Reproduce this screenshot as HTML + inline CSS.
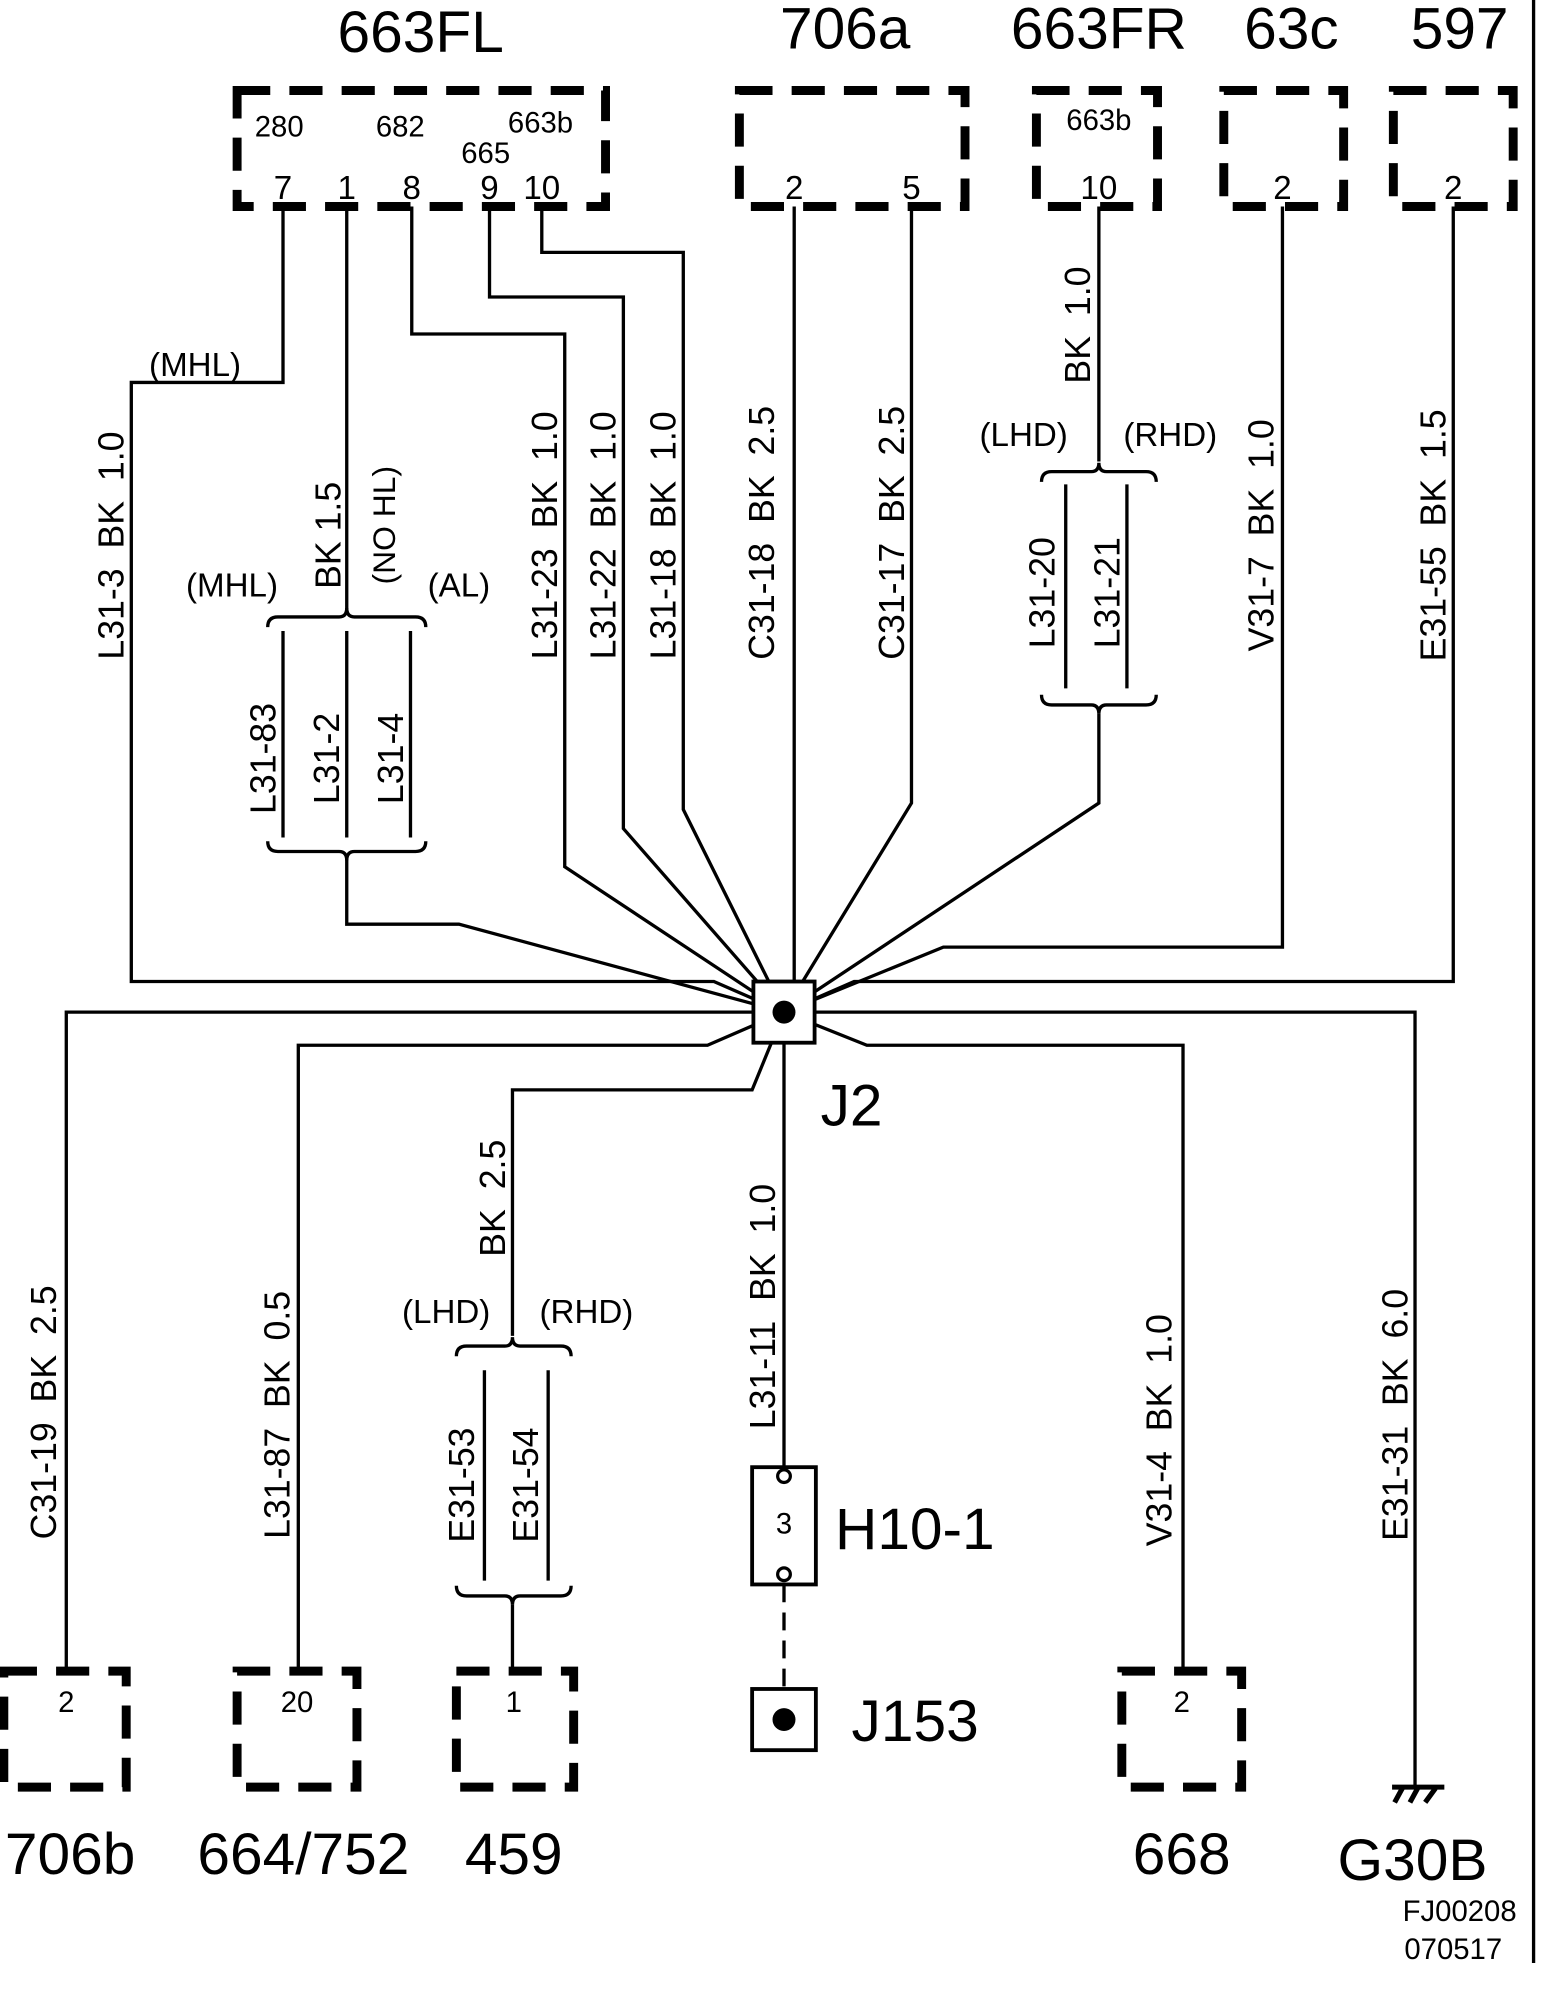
<!DOCTYPE html>
<html><head><meta charset="utf-8"><style>html,body{margin:0;padding:0;background:#fff}svg{display:block}text{white-space:pre}</style></head><body>
<svg xmlns="http://www.w3.org/2000/svg" width="1568" height="2000" viewBox="0 0 1230 1569" preserveAspectRatio="none" font-family="Liberation Sans, Arial, sans-serif" xml:space="preserve">
<g fill="none" stroke="#000" stroke-width="7" stroke-dasharray="26,15">
<rect x="186" y="71" width="289" height="91"/>
<rect x="580" y="71" width="177" height="91"/>
<rect x="813" y="71" width="95" height="91"/>
<rect x="960" y="71" width="94" height="91"/>
<rect x="1093" y="71" width="94" height="91"/>
<rect x="3" y="1311" width="96" height="91"/>
<rect x="186" y="1311" width="94" height="91"/>
<rect x="358" y="1311" width="92" height="91"/>
<rect x="880" y="1311" width="94" height="91"/>
</g>
<g fill="none" stroke="#000" stroke-width="2.6">
<path d="M222,162 V300 H103 V770 H560 L615,794"/>
<path d="M272,162 V478"/>
<path d="M272,672 V725 H360 L615,794"/>
<path d="M222,495 V657 M272,495 V657 M322,495 V657"/>
<path d="M210,492 Q210,484 218,484 H266 Q272,484 272,477 Q272,484 278,484 H326 Q334,484 334,492"/>
<path d="M210,660 Q210,668 218,668 H266 Q272,668 272,675 Q272,668 278,668 H326 Q334,668 334,660"/>
<path d="M323,162 V262 H443 V680 L615,794"/>
<path d="M384,162 V233 H489 V650 L615,794"/>
<path d="M425,162 V198 H536 V635 L615,794"/>
<path d="M623,162 V794"/>
<path d="M715,162 V630 L615,794"/>
<path d="M862,162 V362"/>
<path d="M836,380 V540 M884,380 V540"/>
<path d="M817,378 Q817,370 825,370 H856 Q862,370 862,363 Q862,370 868,370 H899 Q907,370 907,378"/>
<path d="M817,545 Q817,553 825,553 H856 Q862,553 862,560 Q862,553 868,553 H899 Q907,553 907,545"/>
<path d="M862,560 V630 L615,794"/>
<path d="M1006,162 V743 H740 L615,794"/>
<path d="M1140,162 V770 H670 L615,794"/>
<path d="M615,794 H52 V1311"/>
<path d="M615,794 L555,820 H234 V1311"/>
<path d="M615,794 L590,855 H402 V1048"/>
<path d="M380,1075 V1240 M430,1075 V1240"/>
<path d="M358,1064 Q358,1056 366,1056 H396 Q402,1056 402,1049 Q402,1056 408,1056 H440 Q448,1056 448,1064"/>
<path d="M358,1244 Q358,1252 366,1252 H396 Q402,1252 402,1259 Q402,1252 408,1252 H440 Q448,1252 448,1244"/>
<path d="M402,1259 V1311"/>
<path d="M615,794 V1152"/>
<path d="M615,794 L680,820 H928 V1311"/>
<path d="M615,794 H1110 V1402"/>
<path d="M615,1243 V1325" stroke-dasharray="14,8"/>
<path d="M1203,0 V1540"/>
</g>
<rect x="591" y="770" width="48" height="48" fill="#fff" stroke="#000" stroke-width="3"/>
<circle cx="615" cy="794" r="9" fill="#000"/>
<rect x="590" y="1151" width="50" height="92" fill="#fff" stroke="#000" stroke-width="3"/>
<circle cx="615" cy="1158" r="5" fill="#fff" stroke="#000" stroke-width="2.5"/>
<circle cx="615" cy="1235" r="5" fill="#fff" stroke="#000" stroke-width="2.5"/>
<rect x="590" y="1325" width="50" height="48" fill="#fff" stroke="#000" stroke-width="3"/>
<circle cx="615" cy="1349" r="9" fill="#000"/>
<path d="M1092,1402 H1133 M1100,1403 L1094,1414 M1112,1403 L1106,1414 M1126,1403 L1118,1414" stroke="#000" stroke-width="4" fill="none"/>
<g fill="#000" text-anchor="middle">
<g font-size="46">
<text x="330" y="41">663FL</text>
<text x="663" y="38">706a</text>
<text x="862" y="38">663FR</text>
<text x="1013" y="38">63c</text>
<text x="1145" y="38">597</text>
<text x="668" y="883">J2</text>
<text x="655" y="1215" text-anchor="start">H10-1</text>
<text x="668" y="1366" text-anchor="start">J153</text>
<text x="55" y="1470">706b</text>
<text x="238" y="1470">664/752</text>
<text x="403" y="1470">459</text>
<text x="927" y="1470">668</text>
<text x="1108" y="1475">G30B</text>
</g>
<g font-size="23">
<text x="219" y="107">280</text><text x="314" y="107">682</text><text x="424" y="104">663b</text><text x="381" y="128">665</text>
<text x="862" y="102">663b</text>
</g>
<g font-size="26">
<text x="222" y="156">7</text><text x="272" y="156">1</text><text x="323" y="156">8</text><text x="384" y="156">9</text><text x="425" y="156">10</text>
<text x="623" y="156">2</text><text x="715" y="156">5</text><text x="862" y="156">10</text><text x="1006" y="156">2</text><text x="1140" y="156">2</text>
<text x="615" y="1203" font-size="23">3</text>
</g>
<g font-size="23">
<text x="52" y="1343">2</text><text x="233" y="1343">20</text><text x="403" y="1343">1</text><text x="927" y="1343">2</text>
<text x="1145" y="1507">FJ00208</text><text x="1140" y="1537">070517</text>
</g>
<g font-size="26">
<text x="153" y="295">(MHL)</text>
<text x="182" y="468">(MHL)</text><text x="360" y="468">(AL)</text>
<text x="803" y="350">(LHD)</text><text x="918" y="350">(RHD)</text>
<text x="350" y="1038">(LHD)</text><text x="460" y="1038">(RHD)</text>
</g>
<g font-size="28">
<text transform="translate(97,428) rotate(-90)">L31-3  BK  1.0</text>
<text transform="translate(267,420) rotate(-90)">BK 1.5</text>
<text transform="translate(310,412) rotate(-90)" font-size="25">(NO HL)</text>
<text transform="translate(216,595) rotate(-90)">L31-83</text>
<text transform="translate(266,595) rotate(-90)">L31-2</text>
<text transform="translate(316,595) rotate(-90)">L31-4</text>
<text transform="translate(437,420) rotate(-90)">L31-23  BK  1.0</text>
<text transform="translate(483,420) rotate(-90)">L31-22  BK  1.0</text>
<text transform="translate(530,420) rotate(-90)">L31-18  BK  1.0</text>
<text transform="translate(607,418) rotate(-90)">C31-18  BK  2.5</text>
<text transform="translate(709,418) rotate(-90)">C31-17  BK  2.5</text>
<text transform="translate(855,255) rotate(-90)">BK  1.0</text>
<text transform="translate(827,465) rotate(-90)">L31-20</text>
<text transform="translate(878,465) rotate(-90)">L31-21</text>
<text transform="translate(999,420) rotate(-90)">V31-7  BK  1.0</text>
<text transform="translate(1134,420) rotate(-90)">E31-55  BK  1.5</text>
<text transform="translate(44,1108) rotate(-90)">C31-19  BK  2.5</text>
<text transform="translate(227,1110) rotate(-90)">L31-87  BK  0.5</text>
<text transform="translate(396,940) rotate(-90)">BK  2.5</text>
<text transform="translate(372,1165) rotate(-90)">E31-53</text>
<text transform="translate(422,1165) rotate(-90)">E31-54</text>
<text transform="translate(608,1025) rotate(-90)">L31-11  BK  1.0</text>
<text transform="translate(919,1122) rotate(-90)">V31-4  BK  1.0</text>
<text transform="translate(1104,1110) rotate(-90)">E31-31  BK  6.0</text>
</g>
</g>
</svg>
</body></html>
